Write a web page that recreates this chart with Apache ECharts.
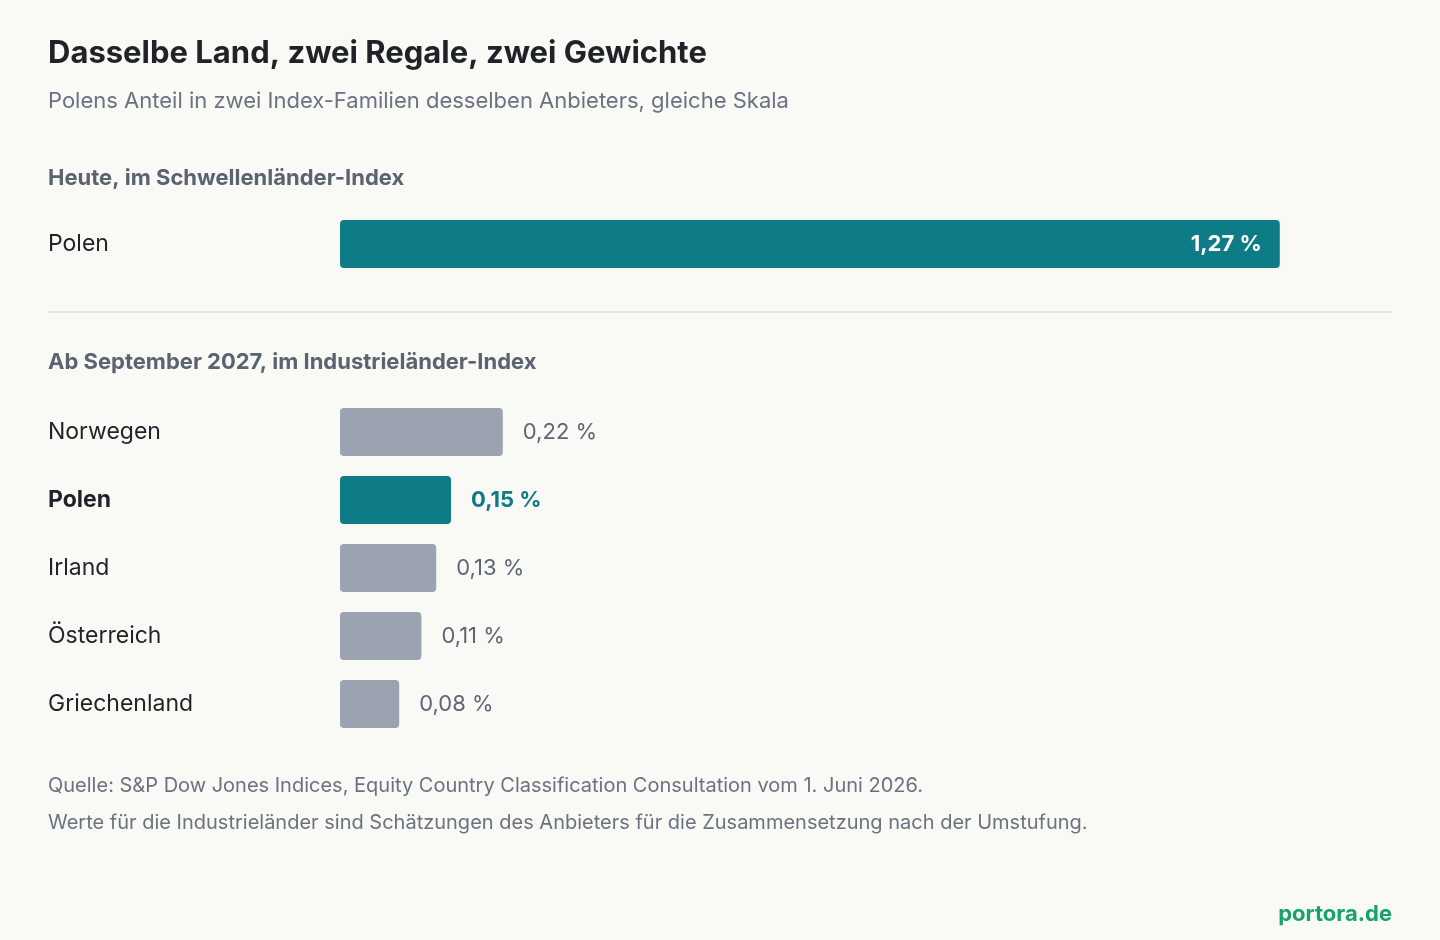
<!DOCTYPE html>
<html><head><meta charset="utf-8">
<script src="https://cdn.jsdelivr.net/npm/echarts@6/dist/echarts.min.js"></script>
<style>html,body{margin:0;background:#f9f9f6}#c{width:1440px;height:940px}</style>
</head><body><div id="c"></div>
<script>
const topCategories = ["Polen"];
const topValues = [1.27];
const devCategories = ["Norwegen","Polen","Irland","Österreich","Griechenland"];
const devValues = [0.22,0.15,0.13,0.11,0.08];
const highlight = "Polen";
const TEAL = "#0e7c86", GREY = "#9ca3b0", F = "Inter";
const fmt = v => v.toFixed(2).replace(".", ",") + " %";

const chart = echarts.init(document.getElementById('c'));
const txt = (x,y,t,size,weight,color,align) => ({type:'text',left:align==='right'?undefined:x,right:align==='right'?x:undefined,top:y,
  style:{text:t,font:`${weight} ${size}px ${F}`,fill:color}});
chart.setOption({
  backgroundColor:'#f9f9f6',
  animation:false,
  grid:[{left:340,width:1036,top:220,height:48},{left:340,width:1036,top:398,height:340}],
  xAxis:[0,1].map(i=>({gridIndex:i,type:'value',min:0,max:1.4,show:false})),
  yAxis:[
    {gridIndex:0,type:'category',inverse:true,data:topCategories,axisLine:{show:false},axisTick:{show:false},
     axisLabel:{align:'left',margin:292,fontFamily:F,fontSize:23,color:'#1f2328'}},
    {gridIndex:1,type:'category',inverse:true,data:devCategories,axisLine:{show:false},axisTick:{show:false},
     axisLabel:{align:'left',margin:292,fontFamily:F,fontSize:23,color:'#1f2328',
       formatter:v=>v===highlight?'{b|'+v+'}':v,rich:{b:{fontWeight:'bold',fontFamily:F,fontSize:23,color:'#1f2328'}}}}
  ],
  series:[
    {type:'bar',xAxisIndex:0,yAxisIndex:0,barWidth:48,data:topValues,
     itemStyle:{color:TEAL,borderRadius:4},
     label:{show:true,position:'insideRight',distance:18,formatter:p=>fmt(p.value),color:'#fff',fontFamily:F,fontWeight:'bold',fontSize:22}},
    {type:'bar',xAxisIndex:1,yAxisIndex:1,barWidth:48,
     data:devValues.map((v,i)=>{const h=devCategories[i]===highlight;return {value:v,itemStyle:{color:h?TEAL:GREY,borderRadius:4},
       label:{color:h?TEAL:'#5f6673',fontWeight:h?'bold':'normal'}};}),
     label:{show:true,position:'right',distance:20,formatter:p=>fmt(p.value),fontFamily:F,fontSize:22}}
  ],
  graphic:[
    txt(48,38,'Dasselbe Land, zwei Regale, zwei Gewichte',31,'bold','#1f2328'),
    txt(48,90,'Polens Anteil in zwei Index-Familien desselben Anbieters, gleiche Skala',22,'normal','#6b7280'),
    txt(48,167,'Heute, im Schwellenländer-Index',22,'bold','#5b6270'),
    {type:'line',shape:{x1:48,y1:312,x2:1392,y2:312},style:{stroke:'#e3e5e8',lineWidth:2}},
    txt(48,351,'Ab September 2027, im Industrieländer-Index',22,'bold','#5b6270'),
    txt(48,776,'Quelle: S&P Dow Jones Indices, Equity Country Classification Consultation vom 1. Juni 2026.',20,'normal','#6b7280'),
    txt(48,813,'Werte für die Industrieländer sind Schätzungen des Anbieters für die Zusammensetzung nach der Umstufung.',20,'normal','#6b7280'),
    txt(48,903,'portora.de',22,'bold','#17a36b','right')
  ]
});
</script></body></html>
